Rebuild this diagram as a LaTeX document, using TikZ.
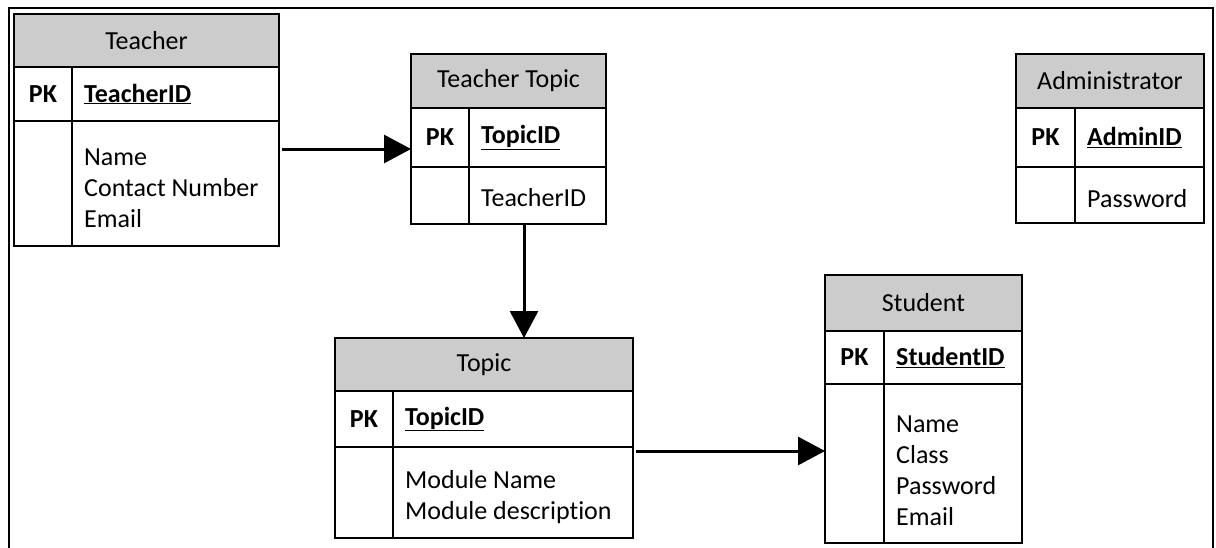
\documentclass[tikz,border=0pt]{standalone}
\usepackage{fontspec}
\setmainfont{Carlito}[Ligatures=NoCommon]
\usetikzlibrary{arrows.meta}
\newcommand\erframe[8]{%
  \node[hdrbox, anchor=north west, minimum width={#4-#2}, minimum height={#6-#3}] (#1-head) at (#2,#3) {};
  \node[cellbox, anchor=north west, minimum width={#5-#2}, minimum height={#7-#6}] (#1-pk) at (#2,#6) {};
  \node[cellbox, anchor=north west, minimum width={#4-#5}, minimum height={#7-#6}] (#1-key) at (#5,#6) {};
  \node[cellbox, anchor=north west, minimum width={#5-#2}, minimum height={#8-#7}] (#1-blank) at (#2,#7) {};
  \node[cellbox, anchor=north west, minimum width={#4-#5}, minimum height={#8-#7}] (#1-body) at (#5,#7) {};
}
\tikzset{
  every node/.style={font=\fontsize{26}{31}\selectfont},
  hdrbox/.style={draw=black, fill=gray!40, line width=1.5pt, inner sep=0pt, outer sep=0pt},
  cellbox/.style={draw=black, fill=white, line width=1.5pt, inner sep=0pt, outer sep=0pt},
  ttl/.style={inner sep=0pt},
  pktxt/.style={inner sep=0pt, font=\fontsize{26}{31}\selectfont\bfseries},
  keytxt/.style={inner sep=0pt, anchor=west, font=\fontsize{26}{31}\selectfont\bfseries},
  bodytxt/.style={inner sep=0pt, anchor=west, align=left},
  arr/.style={line width=3pt, -{Triangle[length=27pt, width=28pt]}},
}
\begin{document}
\begin{tikzpicture}[x=1pt, y=-1pt]
\useasboundingbox (0,0) rectangle (1216,547);
% outer frame
\draw[line width=2pt] (9,550) -- (9,8) -- (1213,8) -- (1213,550);

% tables
\erframe{teacher}{14}{14}{279}{72}{67}{121}{246}
\erframe{tt}{411}{54}{606}{469}{108}{167}{224}
\erframe{admin}{1016}{54}{1204}{1075}{108}{167}{223}
\erframe{topic}{335}{338}{633}{393}{391}{447}{538}
\erframe{student}{825}{275}{1022}{884}{331}{384}{543}

% texts
\node[ttl] (teacher-t) at (teacher-head.center) {Teacher};
\node[pktxt] (teacher-p) at (teacher-pk.center) {PK};
\node[keytxt] (teacher-k) at ([xshift=12pt]teacher-key.west) {\underline{TeacherID}};
\node[bodytxt] (teacher-b) at ([xshift=12pt, yshift=-5pt]teacher-body.west) {Name\\Contact Number\\Email};

\node[ttl] (tt-t) at (tt-head.center) {Teacher Topic};
\node[pktxt] (tt-p) at (tt-pk.center) {PK};
\node[keytxt] (tt-k) at ([xshift=12pt]tt-key.west) {\underline{TopicID}};
\node[bodytxt] (tt-b) at ([xshift=12pt, yshift=-2pt]tt-body.west) {TeacherID};

\node[ttl] (admin-t) at (admin-head.center) {Administrator};
\node[pktxt] (admin-p) at (admin-pk.center) {PK};
\node[keytxt] (admin-k) at ([xshift=12pt]admin-key.west) {\underline{AdminID}};
\node[bodytxt] (admin-b) at ([xshift=12pt, yshift=-4pt]admin-body.west) {Password};

\node[ttl] (topic-t) at (topic-head.center) {Topic};
\node[pktxt] (topic-p) at (topic-pk.center) {PK};
\node[keytxt] (topic-k) at ([xshift=12pt]topic-key.west) {\underline{TopicID}};
\node[bodytxt] (topic-b) at ([xshift=12pt, yshift=-5pt]topic-body.west) {Module Name\\Module description};

\node[ttl] (student-t) at (student-head.center) {Student};
\node[pktxt] (student-p) at (student-pk.center) {PK};
\node[keytxt] (student-k) at ([xshift=12pt]student-key.west) {\underline{StudentID}};
\node[bodytxt] (student-b) at ([xshift=12pt, yshift=-7pt]student-body.west) {Name\\Class\\Password\\Email};

% connectors
\coordinate (ya) at (0,149);
\coordinate (xb) at (524,0);
\coordinate (yc) at (0,451);
\draw[arr] ([xshift=3pt]teacher-body.east |- ya) -- (tt-pk.west |- ya);
\draw[arr] (tt-body.south -| xb) -- (topic-head.north -| xb);
\draw[arr] ([xshift=3pt]topic-body.east |- yc) -- (student-blank.west |- yc);
\end{tikzpicture}
\end{document}
